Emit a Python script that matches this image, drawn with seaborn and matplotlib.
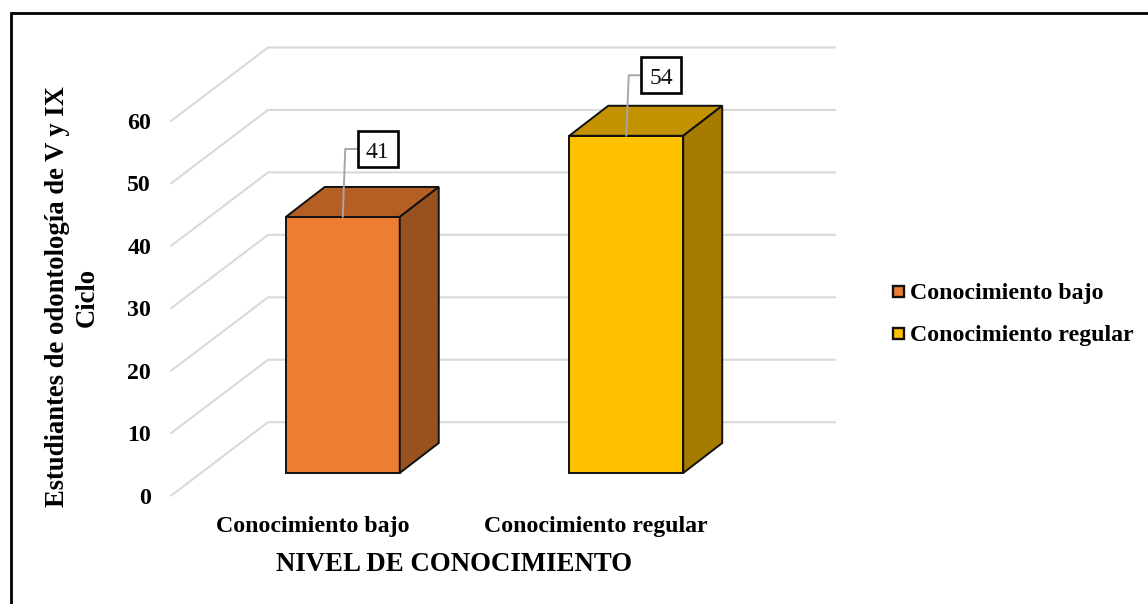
import matplotlib
matplotlib.use("Agg")
import matplotlib.pyplot as plt
import seaborn as sns
import pandas as pd
from matplotlib.patches import Polygon, Rectangle
from matplotlib.lines import Line2D
from matplotlib.transforms import Affine2D

categories = ["Conocimiento bajo", "Conocimiento regular"]
students = [41, 54]
front_colors = ["#ED7D31", "#FFC000"]
top_colors = ["#B55F25", "#C29200"]
side_colors = ["#99511F", "#A67C00"]
y_ticks = [0, 10, 20, 30, 40, 50, 60]

W, H = 1148, 604
sns.set_theme(style="white")
plt.rcParams["font.family"] = ["Liberation Serif", "DejaVu Serif"]

fig = plt.figure(figsize=(W / 100, H / 100), dpi=100)
left, right, top, bottom = 171, 738, 121, 495.7
ax = fig.add_axes([left / W, 1 - bottom / H, (right - left) / W, (bottom - top) / H])

df = pd.DataFrame({"nivel": categories, "estudiantes": students})
sns.barplot(data=df, x="nivel", y="estudiantes", hue="nivel", palette=front_colors,
            width=0.402, legend=False, ax=ax, saturation=1, zorder=3)
ax.set_xlim(-0.5, 1.5)
ax.set_ylim(0, 60)
for s in ax.spines.values():
    s.set_visible(False)

# Oblique projection of the chart box, in pixels
wall_dx, wall_dy = 97, 73.5
bar_dx, bar_dy = 30, 22.7
bar_shift = Affine2D().translate(bar_dx, bar_dy)
depth_dx, depth_dy = 39, 30
grid_c = "#D9D9D9"
edge_c = "#111111"


def px(x, y):
    return ax.transData.transform((x, y))


# Side wall and back wall gridlines
for v in y_ticks:
    x0, y0 = px(-0.5, v)
    ax.add_line(Line2D([x0, x0 + wall_dx, x0 + wall_dx + 567], [y0, y0 + wall_dy, y0 + wall_dy],
                       transform=None, color=grid_c, lw=1.5, zorder=1, clip_on=False))

# Bars: front face from the seaborn rectangles, then top and side faces
for patch, val, tc, sc, rise in zip(ax.patches, students, top_colors, side_colors, [68, 60.5]):
    patch.set_transform(ax.transData + bar_shift)
    patch.set_edgecolor(edge_c)
    patch.set_linewidth(1.4)
    patch.set_clip_on(False)
    xa, xb = patch.get_x(), patch.get_x() + patch.get_width()
    (xl, yb), (xr, yt) = px(xa, 0), px(xb, val)
    xl += bar_dx
    xr += bar_dx
    yb += bar_dy
    yt += bar_dy
    ax.add_patch(Polygon([(xl, yt), (xr, yt), (xr + depth_dx, yt + depth_dy),
                          (xl + depth_dx, yt + depth_dy)], closed=True, transform=None,
                         facecolor=tc, edgecolor=edge_c, lw=1.4, zorder=3, clip_on=False))
    ax.add_patch(Polygon([(xr, yb), (xr, yt), (xr + depth_dx, yt + depth_dy),
                          (xr + depth_dx, yb + depth_dy)], closed=True, transform=None,
                         facecolor=sc, edgecolor=edge_c, lw=1.4, zorder=3, clip_on=False))
    # Value callout with its leader line
    cx = (xl + xr) / 2
    ax.add_line(Line2D([cx, cx + 2.5, cx + 15], [yt, yt + rise, yt + rise], transform=None,
                       color="#A6A6A6", lw=1.4, zorder=4, clip_on=False))
    ax.add_patch(Rectangle((cx + 15, yt + rise - 18), 40, 36, transform=None, facecolor="white",
                           edgecolor="black", lw=1.9, zorder=5, clip_on=False))
    ax.text(cx + 35, yt + rise - 1, str(val), transform=None, ha="center", va="center_baseline",
            fontsize=17, color="#111111", zorder=6, clip_on=False)

# Axis text
ax.set_yticks(y_ticks)
ax.set_yticklabels([str(v) for v in y_ticks], fontsize=17.2, fontweight="bold", color="black")
ax.set_xticks([0, 1])
ax.set_xticklabels(categories, fontsize=17.2, fontweight="bold", color="black")
ax.tick_params(axis="both", length=0)
ax.tick_params(axis="y", pad=14.4)
ax.tick_params(axis="x", pad=14.5)
ax.set_xlabel("")
ax.set_ylabel("")
fig.text(454 / W, 1 - 564.5 / H, "NIVEL DE CONOCIMIENTO", ha="center", va="center",
         fontsize=19.4, fontweight="bold", color="black")
fig.text(72 / W, 1 - 297 / H, "Estudiantes de odontología de V y IX\nCiclo", ha="center", va="center",
         rotation=90, fontsize=19.2, fontweight="bold", color="black", linespacing=1.25)

# Legend
for lab, col, y in zip(categories, front_colors, [291.5, 333.5]):
    fig.add_artist(Rectangle((893 / W, 1 - (y + 5.5) / H), 11 / W, 11 / H, transform=fig.transFigure,
                             facecolor=col, edgecolor=edge_c, lw=1.7))
    fig.text(910 / W, 1 - (y + 2.5) / H, lab, ha="left", va="center", fontsize=17.2,
             fontweight="bold", color="black")

# Frame rules along the top and left edges
fig.add_artist(Line2D([10.5 / W, 10.5 / W, 1], [0, 1 - 12.5 / H, 1 - 12.5 / H], transform=fig.transFigure,
                      color="black", lw=2, solid_joinstyle="miter"))

fig.savefig("out.png", dpi=100)
